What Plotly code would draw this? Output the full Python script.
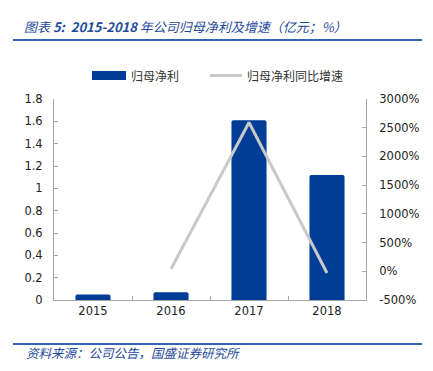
import plotly.graph_objects as go

# ---- data ----
years = ["2015", "2016", "2017", "2018"]
net_profit = [0.05, 0.07, 1.61, 1.12]          # 亿元
growth = [None, 40, 2590, -30]                 # %
left_ticks = [0, 0.2, 0.4, 0.6, 0.8, 1, 1.2, 1.4, 1.6, 1.8]
left_labels = ["0", "0.2", "0.4", "0.6", "0.8", "1", "1.2", "1.4", "1.6", "1.8"]
right_ticks = [-500, 0, 500, 1000, 1500, 2000, 2500, 3000]
right_labels = ["-500%", "0%", "500%", "1000%", "1500%", "2000%", "2500%", "3000%"]

OFF = 8  # page body margin offset
W, H = 433 - OFF, 371 - OFF
L, R, T, B = 54 - OFF, 366 - OFF, 99 - OFF, 300 - OFF  # plot area in figure pixels

BAR_COLOR = "#003D97"
LINE_COLOR = "#C9C9C9"
AXIS_COLOR = "#A6A6A6"
TITLE_COLOR = "#1F4A9B"
RULE_COLOR = "#2F63B3"
TICK_FONT = dict(family="DejaVu Sans, Verdana, sans-serif", size=11.5, color="#222222")
CJK = "Noto Sans CJK SC, sans-serif"


def px_x(x):
    return (x - OFF - L) / (R - L)


def px_y(y):
    return (B - (y - OFF)) / (B - T)


fig = go.Figure()
fig.add_trace(go.Bar(x=years, y=net_profit, name="归母净利", marker=dict(color=BAR_COLOR, line=dict(width=0)),
                     width=0.45, yaxis="y"))
fig.add_trace(go.Scatter(x=years, y=growth, name="归母净利同比增速", mode="lines",
                         line=dict(color=LINE_COLOR, width=3), yaxis="y2", connectgaps=False))

fig.update_layout(
    width=W, height=H,
    margin=dict(l=L, r=W - R, t=T, b=H - B, pad=0),
    paper_bgcolor="white", plot_bgcolor="white",
    showlegend=False,
    barcornerradius=2,
    xaxis=dict(type="category", showline=True, linecolor=AXIS_COLOR, linewidth=1,
               ticks="inside", ticklen=4, tickcolor=AXIS_COLOR, tickson="boundaries",
               tickfont=TICK_FONT, showgrid=False, zeroline=False, fixedrange=True),
    yaxis=dict(range=[0, 1.8], tickvals=left_ticks, ticktext=left_labels,
               showline=True, linecolor=AXIS_COLOR, linewidth=1, ticks="inside", ticklen=4,
               tickcolor=AXIS_COLOR, tickfont=TICK_FONT, showgrid=False, zeroline=False,
               ticklabelstandoff=8),
    yaxis2=dict(range=[-500, 3000], tickvals=right_ticks, ticktext=right_labels,
                overlaying="y", side="right", showline=True, linecolor=AXIS_COLOR, linewidth=1,
                ticks="inside", ticklen=4, tickcolor=AXIS_COLOR, tickfont=TICK_FONT,
                showgrid=False, zeroline=False, ticklabelstandoff=10),
)

shapes = []
annotations = []

# title and rules
annotations.append(dict(
    xref="paper", yref="paper", x=px_x(22), y=px_y(26), xanchor="left", yanchor="middle",
    showarrow=False, text="<i>图表 <b>5:  2015-2018</b> 年公司归母净利及增速（亿元；%）</i>",
    font=dict(family=CJK, size=13, color=TITLE_COLOR)))
shapes.append(dict(type="line", xref="paper", yref="paper", x0=px_x(13), x1=px_x(422),
                   y0=px_y(40), y1=px_y(40), line=dict(color=RULE_COLOR, width=2)))
shapes.append(dict(type="line", xref="paper", yref="paper", x0=px_x(13), x1=px_x(422),
                   y0=px_y(344), y1=px_y(344), line=dict(color=RULE_COLOR, width=2)))
annotations.append(dict(
    xref="paper", yref="paper", x=px_x(24), y=px_y(352), xanchor="left", yanchor="middle",
    showarrow=False, text="<i>资料来源：公司公告，国盛证券研究所</i>",
    font=dict(family=CJK, size=12.5, color=TITLE_COLOR)))

# legend
shapes.append(dict(type="rect", xref="paper", yref="paper", x0=px_x(92), x1=px_x(126),
                   y0=px_y(71), y1=px_y(80), fillcolor=BAR_COLOR, line=dict(width=0)))
annotations.append(dict(xref="paper", yref="paper", x=px_x(129), y=px_y(75.5), xanchor="left",
                        yanchor="middle", showarrow=False, text="归母净利",
                        font=dict(family=CJK, size=12, color="#333333")))
shapes.append(dict(type="line", xref="paper", yref="paper", x0=px_x(210), x1=px_x(242),
                   y0=px_y(75.5), y1=px_y(75.5), line=dict(color=LINE_COLOR, width=3)))
annotations.append(dict(xref="paper", yref="paper", x=px_x(245), y=px_y(75.5), xanchor="left",
                        yanchor="middle", showarrow=False, text="归母净利同比增速",
                        font=dict(family=CJK, size=12, color="#333333")))

fig.update_layout(shapes=shapes, annotations=annotations)
fig.write_html("out.html")
